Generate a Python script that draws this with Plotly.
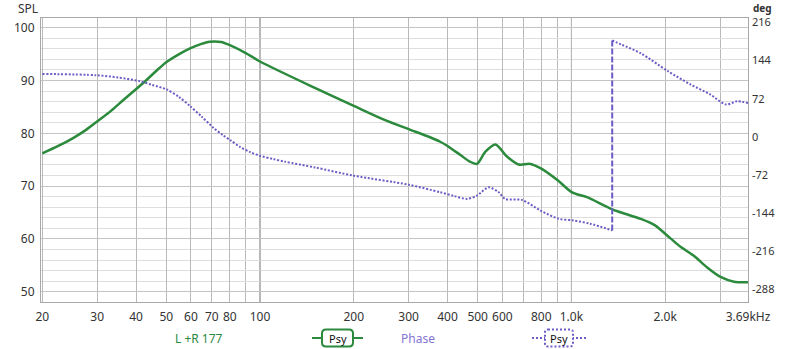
import math
import plotly.graph_objects as go

# ---------------- data ----------------
spl_freq = [20, 22.5, 25.1, 27.7, 30.4, 33.3, 36.4, 39.7, 43.2, 46.6, 50.1, 55, 59.6, 64.5, 69, 75, 80, 90, 100,
            150, 200, 250, 300, 350, 379, 400, 440, 470, 497, 529, 570, 621, 677, 738, 795, 899, 1005, 1122,
            1352, 1668, 1850, 2080, 2241, 2473, 2729, 3012, 3326, 3690]
spl_db = [76.2, 77.6, 79.1, 80.7, 82.5, 84.3, 86.3, 88.2, 90.1, 91.9, 93.5, 95.0, 96.1, 96.9, 97.35, 97.3, 96.7,
          95.2, 93.6, 88.6, 85.2, 82.6, 80.8, 79.3, 78.4, 77.6, 75.9, 74.7, 74.2, 76.5, 77.9, 75.6, 74.1, 74.2,
          73.4, 71.2, 68.8, 67.9, 65.6, 63.8, 62.6, 60.1, 58.5, 56.8, 54.6, 52.8, 51.9, 51.8]

phase_freq_a = [20, 29.8, 35, 41.1, 45, 50.1, 55, 59.6, 65, 70.8, 76, 80.5, 86.2, 93, 100, 110, 120, 150, 200, 300,
                379, 420, 462, 497, 542, 584, 613, 693, 795, 910, 1016, 1150, 1352]
phase_deg_a = [118.8, 116.3, 112, 105, 98, 89.4, 75, 58, 38, 17.2, 3, -7, -19, -29, -36, -42, -47, -58, -73.6, -90.6,
               -105, -112, -117.5, -111.3, -95.6, -105, -117.5, -119.4, -139.5, -155, -158.3, -164.5, -177]
wrap_freq = [1352, 1352]
wrap_deg = [-177, 182]
phase_freq_b = [1352, 1450, 1668, 2040, 2410, 2790, 3140, 3400, 3690]
phase_deg_b = [182, 174, 158, 124, 99, 80, 61, 67, 64]

x_tickvals = [20, 30, 40, 50, 60, 70, 80, 100, 200, 300, 400, 500, 600, 800, 1000, 2000, 3690]
x_ticktext = ["20", "30", "40", "50", "60", "70", "80", "100", "200", "300", "400", "500",
              "600", "800", "1.0k", "2.0k", "3.69kHz"]
x_minor_vals = [90, 700, 900, 3000]
x_dark_vals = [100, 1000]
spl_ticks = [50, 60, 70, 80, 90, 100]
deg_ticks = [-288, -216, -144, -72, 0, 72, 144, 216]
deg_ticktext = ["-288", "-216", "-144", "-72", "0", "72", "144", "216"]

# ---------------- style ----------------
GREEN = "#2b8a3c"
PURPLE = "#6a5ec6"
PURPLE_TXT = "#8474d4"
FONT = "Noto Sans"
W, H = 800, 349
L, R, T, B = 41, 748, 18, 302


def px(x):
    return (x - L) / (R - L)


def py(y):
    return (B - y) / (B - T)


fig = go.Figure()

fig.add_trace(go.Scatter(x=phase_freq_a, y=phase_deg_a, yaxis="y2", mode="lines",
                         line=dict(color=PURPLE, width=2, dash="2px,1.7px", shape="spline", smoothing=0.8),
                         hoverinfo="skip", showlegend=False))
fig.add_trace(go.Scatter(x=wrap_freq, y=wrap_deg, yaxis="y2", mode="lines",
                         line=dict(color=PURPLE, width=2, dash="6px,2px"),
                         hoverinfo="skip", showlegend=False))
fig.add_trace(go.Scatter(x=phase_freq_b, y=phase_deg_b, yaxis="y2", mode="lines",
                         line=dict(color=PURPLE, width=2, dash="2px,1.7px", shape="spline", smoothing=0.8),
                         hoverinfo="skip", showlegend=False))
fig.add_trace(go.Scatter(x=spl_freq, y=spl_db, mode="lines",
                         line=dict(color=GREEN, width=2.5, shape="spline", smoothing=0.8),
                         hoverinfo="skip", showlegend=False))

shapes = []
for v in x_dark_vals:
    shapes.append(dict(type="line", xref="x", yref="paper", x0=v, x1=v, y0=0, y1=1,
                       line=dict(color="#6a6a6a", width=1), layer="below"))


def rbox(x0, y0, x1, y1, r, color, dash):
    # rounded rectangle in paper coords, given pixel coords
    path = (f"M {px(x0 + r)},{py(y0)} L {px(x1 - r)},{py(y0)} Q {px(x1)},{py(y0)} {px(x1)},{py(y0 + r)} "
            f"L {px(x1)},{py(y1 - r)} Q {px(x1)},{py(y1)} {px(x1 - r)},{py(y1)} "
            f"L {px(x0 + r)},{py(y1)} Q {px(x0)},{py(y1)} {px(x0)},{py(y1 - r)} "
            f"L {px(x0)},{py(y0 + r)} Q {px(x0)},{py(y0)} {px(x0 + r)},{py(y0)} Z")
    return dict(type="path", xref="paper", yref="paper", path=path,
                line=dict(color=color, width=2, dash=dash), fillcolor="white")


# legend: green
shapes.append(dict(type="line", xref="paper", yref="paper", x0=px(312), x1=px(363),
                   y0=py(338), y1=py(338), line=dict(color=GREEN, width=2)))
shapes.append(rbox(322, 329.5, 353, 346.5, 4, GREEN, "solid"))
# legend: phase
shapes.append(dict(type="line", xref="paper", yref="paper", x0=px(532), x1=px(586),
                   y0=py(338), y1=py(338), line=dict(color=PURPLE, width=2, dash="2px,2px")))
shapes.append(rbox(545, 329.5, 573, 346.5, 3, PURPLE, "2px,2px"))


def ann(text, x, y, size, color, yanchor="middle"):
    return dict(text=text, x=px(x), y=py(y), xref="paper", yref="paper", showarrow=False,
                xanchor="center", yanchor=yanchor, borderpad=0,
                font=dict(family=FONT, size=size, color=color))


annotations = [
    ann("SPL", 28, 8, 12, "#333333"),
    ann("<b>deg</b>", 762, 0, 10, "#333333", yanchor="top"),
    ann("L +R 177", 199, 338, 12, GREEN),
    ann("Psy", 337.5, 338, 11, "#111111"),
    ann("Phase", 418, 338, 12, PURPLE_TXT),
    ann("Psy", 559, 338, 11, "#111111"),
]

fig.update_layout(
    width=W, height=H,
    margin=dict(l=L, r=W - R, t=T, b=H - B, pad=0),
    paper_bgcolor="white", plot_bgcolor="white",
    font=dict(family=FONT, size=12, color="#333333"),
    showlegend=False,
    shapes=shapes,
    annotations=annotations,
    xaxis=dict(type="log", range=[math.log10(19.8), math.log10(3690)],
               tickmode="array", tickvals=x_tickvals, ticktext=x_ticktext,
               showgrid=True, gridcolor="#b9b9b9", gridwidth=1,
               minor=dict(tickmode="array", tickvals=x_minor_vals, showgrid=True,
                          gridcolor="#b9b9b9", gridwidth=1, ticks=""),
               showline=True, linecolor="#a8a8a8", linewidth=1, mirror=True,
               ticks="", zeroline=False, tickfont=dict(size=12, color="#333333"),
               ticklabelstandoff=4),
    yaxis=dict(range=[48.05, 101.84], tickmode="array", tickvals=spl_ticks,
               showgrid=True, gridcolor="#c4c4c4", gridwidth=1,
               minor=dict(dtick=2, showgrid=True, gridcolor="#dedede", gridwidth=1, ticks=""),
               showline=True, linecolor="#a8a8a8", linewidth=1, mirror=True,
               ticks="", zeroline=False, tickfont=dict(size=12, color="#333333"),
               ticklabelstandoff=3),
    yaxis2=dict(range=[-312.4, 224.5], overlaying="y", side="right", tickmode="array",
                tickvals=deg_ticks, ticktext=deg_ticktext, showgrid=False, zeroline=False,
                showline=False, ticks="", tickfont=dict(size=11, color="#333333"),
                ticklabelstandoff=3),
)

fig.write_html("out.html")
